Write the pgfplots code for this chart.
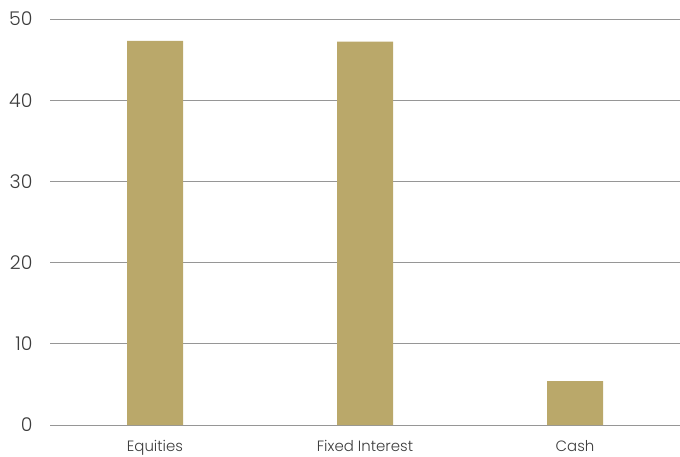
\documentclass[border=0pt]{standalone}
\usepackage{fontspec}
\setmainfont{Poppins}[UprightFont={* Light}]
\usepackage{pgfplots}
\pgfplotsset{compat=1.18}
\definecolor{bargold}{RGB}{186,168,106}
\definecolor{gridgray}{RGB}{150,150,150}
\definecolor{txt}{RGB}{60,60,60}
\begin{document}
\begin{tikzpicture}
\useasboundingbox (-50bp,-32bp) rectangle (630bp,425bp);
\begin{axis}[
  scale only axis,
  width=630bp, height=406bp,
  xmin=-0.5, xmax=2.5,
  ymin=0, ymax=50,
  xtick=data,
  xticklabels={Equities, Fixed Interest, Cash},
  ytick={0,10,20,30,40,50},
  ymajorgrids,
  major grid style={gridgray, line width=0.9bp},
  axis line style={draw=none},
  major tick length=0pt,
  /pgf/number format/assume math mode=true,
  yticklabel style={font=\fontsize{19}{19}\selectfont, text=txt, xshift=-14bp},
  xticklabel style={font=\fontsize{15}{16}\selectfont, text=txt, yshift=-12bp},
  clip=false,
]
\addplot[ybar, bar width=56bp, fill=bargold, draw=none] coordinates {(0,47.3) (1,47.2) (2,5.4)};
\end{axis}
\end{tikzpicture}
\end{document}
